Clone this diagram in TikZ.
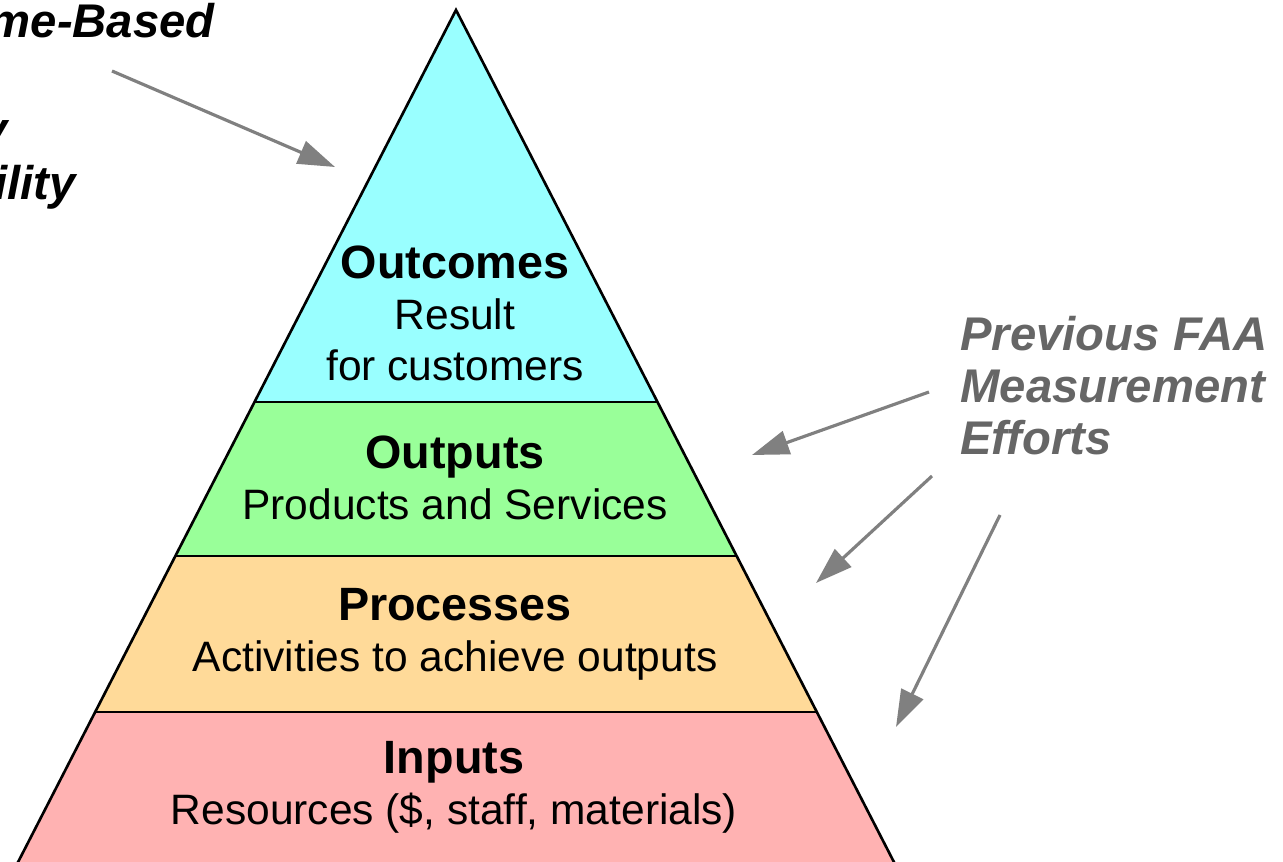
\documentclass[tikz,border=0pt]{standalone}
\usepackage{fontspec}
\setmainfont{Liberation Sans}
\usetikzlibrary{positioning, arrows.meta}

\definecolor{outcomecol}{RGB}{153,255,255}
\definecolor{outputcol}{RGB}{153,255,153}
\definecolor{processcol}{RGB}{255,218,153}
\definecolor{inputcol}{RGB}{255,178,178}
\definecolor{notegray}{RGB}{102,102,102}
\definecolor{arrowgray}{RGB}{128,128,128}

\newcommand{\headfont}{\fontsize{26.6}{29}\selectfont\bfseries}

\begin{document}
\begin{tikzpicture}[
        x=0.02cm, y=-0.02cm,
        bandline/.style={draw=black, line width=1.5pt},
        bandtext/.style={align=center, anchor=north, inner sep=0pt, font=\fontsize{24.2}{29}\selectfont},
        sidenote/.style={inner sep=0pt, font=\fontsize{26.9}{29.5}\selectfont\bfseries\itshape},
        arrow/.style={draw=arrowgray, line width=1.8pt, -{Triangle[length=0.74cm, width=0.48cm]}}
    ]
    \useasboundingbox (0,0) rectangle (1283,861);
    \clip (0,0) rectangle (1283,861);

    % Pyramide
    \coordinate (apex) at (456,10);
    \coordinate (l1) at (254.5,402);  \coordinate (r1) at (657.5,402);
    \coordinate (l2) at (175.4,556);  \coordinate (r2) at (736.6,556);
    \coordinate (l3) at (95.2,712);   \coordinate (r3) at (816.8,712);
    \coordinate (l4) at (11.4,875);   \coordinate (r4) at (900.6,875);

    \fill[outcomecol] (apex) -- (r1) -- (l1) -- cycle;
    \fill[outputcol] (l1) -- (r1) -- (r2) -- (l2) -- cycle;
    \fill[processcol] (l2) -- (r2) -- (r3) -- (l3) -- cycle;
    \fill[inputcol] (l3) -- (r3) -- (r4) -- (l4) -- cycle;
    \draw[bandline] (l1) -- (r1);
    \draw[bandline] (l2) -- (r2);
    \draw[bandline] (l3) -- (r3);
    \draw[bandline, line join=miter] (l4) -- (apex) -- (r4);

    % Ebenen
    \node (outcomes) [bandtext] at (455,246) {{\headfont Outcomes}\\Result\\for customers};
    \node (outputs) [bandtext] at (455,436) {{\headfont Outputs}\\Products and Services};
    \node (processes) [bandtext] at (455,588) {{\headfont Processes}\\Activities to achieve outputs};
    \node (inputs) [bandtext] at (454,741) {{\headfont Inputs}\\Resources (\$, staff, materials)};

    % Beschriftungen
    \node (obline1) [sidenote, anchor=base east] at (215,38) {Outcome-Based};
    \node (obline3) [sidenote, anchor=base east] at (8,146) {y};
    \node (obline4) [sidenote, anchor=base east] at (76,200) {Accountability};
    \node (faa) [sidenote, text=notegray, align=left, anchor=north west] at (960,316) {Previous FAA\\Measurement\\Efforts};

    % Pfeile
    \coordinate (obstart) at (112,71);   \coordinate (obend) at (335,167);
    \coordinate (faastart1) at (929,392); \coordinate (faaend1) at (752,455);
    \coordinate (faastart2) at (932,476); \coordinate (faaend2) at (816,583);
    \coordinate (faastart3) at (1000,515); \coordinate (faaend3) at (896,727);
    \draw[arrow] (obstart) -- (obend);
    \draw[arrow] (faastart1) -- (faaend1);
    \draw[arrow] (faastart2) -- (faaend2);
    \draw[arrow] (faastart3) -- (faaend3);

\end{tikzpicture}
\end{document}
